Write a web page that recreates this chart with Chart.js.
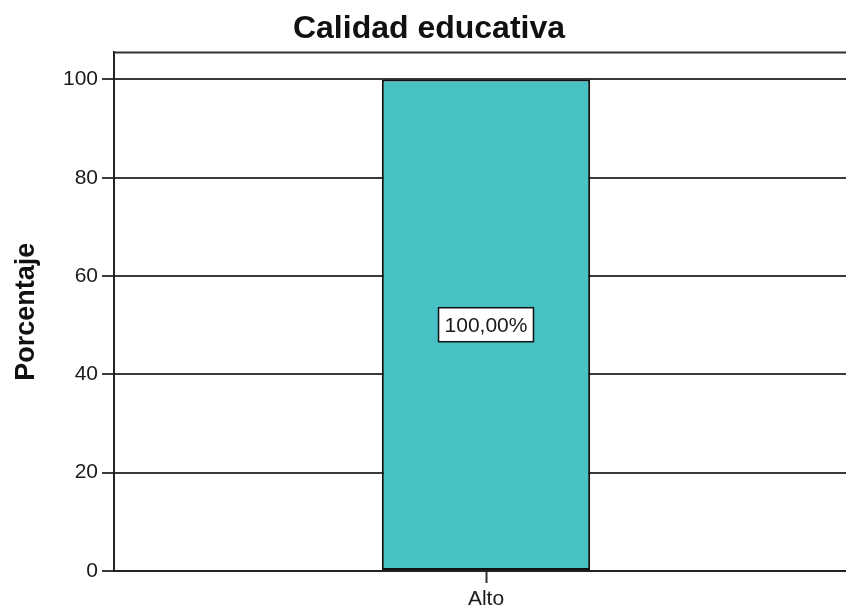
<!DOCTYPE html>
<html lang="es">
<head>
    <meta charset="UTF-8">
    <title>Calidad educativa</title>
    <script src="https://cdn.jsdelivr.net/npm/chart.js"></script>
    <style>
        html, body { margin: 0; padding: 0; background: #fff; overflow: hidden; }
        #chartContainer { width: 860px; height: 607px; }
    </style>
</head>
<body>
    <div id="chartContainer">
        <canvas id="calidadChart"></canvas>
    </div>

    <script>
        // datos
        const categorias = ['Alto'];
        const porcentajes = [100];
        const etiquetas = ['100,00%'];
        const yTicks = [0, 20, 40, 60, 80, 100];

        const fuente = "'Liberation Sans', Arial, sans-serif";

        // marco superior / derecho del area del grafico
        const marco = {
            id: 'marco',
            afterDraw(chart) {
                const { ctx, chartArea: a } = chart;
                ctx.save();
                ctx.strokeStyle = '#333';
                ctx.lineWidth = 2;
                ctx.beginPath();
                ctx.moveTo(a.left, a.top);
                ctx.lineTo(a.right, a.top);
                ctx.lineTo(a.right, a.bottom);
                ctx.stroke();
                ctx.restore();
            }
        };

        // etiqueta con recuadro en el centro de cada barra
        const etiquetaBarra = {
            id: 'etiquetaBarra',
            afterDatasetsDraw(chart) {
                const { ctx } = chart;
                const meta = chart.getDatasetMeta(0);
                ctx.save();
                ctx.font = '21px ' + fuente;
                ctx.textAlign = 'center';
                ctx.textBaseline = 'middle';
                meta.data.forEach((bar, i) => {
                    const txt = etiquetas[i];
                    const cy = (bar.y + bar.base) / 2;
                    const w = ctx.measureText(txt).width + 12;
                    const h = 34;
                    ctx.fillStyle = '#fff';
                    ctx.fillRect(bar.x - w / 2, cy - h / 2, w, h);
                    ctx.strokeStyle = '#111';
                    ctx.lineWidth = 1.5;
                    ctx.strokeRect(bar.x - w / 2, cy - h / 2, w, h);
                    ctx.fillStyle = '#1a1a1a';
                    ctx.fillText(txt, bar.x, cy + 1);
                });
                ctx.restore();
            }
        };

        const ctx = document.getElementById('calidadChart').getContext('2d');
        new Chart(ctx, {
            type: 'bar',
            data: {
                labels: categorias,
                datasets: [{
                    data: porcentajes,
                    backgroundColor: '#48C1C4',
                    borderColor: '#111',
                    borderWidth: 2,
                    borderSkipped: false,
                    categoryPercentage: 1,
                    barPercentage: 0.28
                }]
            },
            options: {
                responsive: true,
                maintainAspectRatio: false,
                animation: false,
                layout: { padding: { left: 0, right: 2, top: 0, bottom: 0 } },
                plugins: {
                    legend: { display: false },
                    tooltip: { enabled: false },
                    title: {
                        display: true,
                        text: 'Calidad educativa',
                        color: '#111',
                        font: { family: fuente, size: 32, weight: 'bold' },
                        padding: { top: 10, bottom: 4 }
                    }
                },
                scales: {
                    x: {
                        grid: {
                            offset: false,
                            drawOnChartArea: false,
                            drawTicks: true,
                            tickLength: 12,
                            tickWidth: 2,
                            color: '#333'
                        },
                        border: { display: true, color: '#222', width: 2 },
                        ticks: {
                            color: '#1a1a1a',
                            padding: 4,
                            font: { family: fuente, size: 21 }
                        },
                        afterFit(scale) { scale.height = 36; }
                    },
                    y: {
                        min: 0,
                        max: 105.5,
                        afterBuildTicks(scale) {
                            scale.ticks = yTicks.map(v => ({ value: v }));
                        },
                        afterFit(scale) { scale.width = 114; },
                        grid: {
                            color: '#3a3a3a',
                            lineWidth: 2,
                            tickLength: 12,
                            tickWidth: 2
                        },
                        border: { display: true, color: '#222', width: 2 },
                        ticks: {
                            color: '#1a1a1a',
                            padding: 4,
                            font: { family: fuente, size: 21 }
                        },
                        title: {
                            display: true,
                            text: 'Porcentaje',
                            color: '#111',
                            font: { family: fuente, size: 27, weight: 'bold' },
                            padding: { top: 10, bottom: 0 }
                        }
                    }
                }
            },
            plugins: [marco, etiquetaBarra]
        });
    </script>
</body>
</html>
